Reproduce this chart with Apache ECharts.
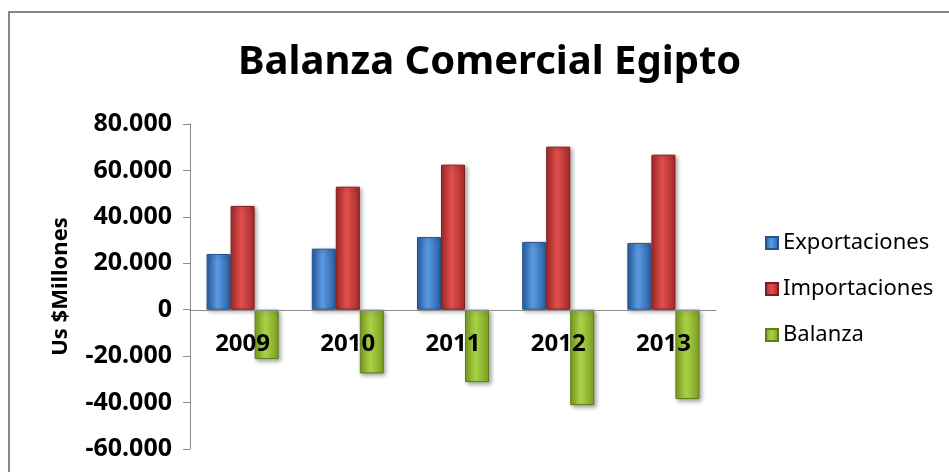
<!DOCTYPE html>
<html>
<head>
<meta charset="utf-8">
<script src="https://cdn.jsdelivr.net/npm/echarts@6/dist/echarts.min.js"></script>
<style>
  html, body { margin: 0; padding: 0; background: #fff; }
  #chart { width: 949px; height: 472px; }
</style>
</head>
<body>
<div id="chart"></div>
<script>
// datos (US$ millones)
const years = ['2009', '2010', '2011', '2012', '2013'];
const exportaciones = [24000, 26300, 31300, 29200, 28750];
const importaciones = [44700, 53000, 62500, 70250, 66800];
const balanza = [-21250, -27450, -31200, -41100, -38500];
const yTicks = { min: -60000, max: 80000, interval: 20000 };

const FONT = '"Noto Sans", sans-serif';

function shade(dark, light) {
    return {
        type: 'linear', x: 0, y: 0, x2: 1, y2: 0,
        colorStops: [
            { offset: 0, color: dark },
            { offset: 0.45, color: light },
            { offset: 1, color: dark }
        ]
    };
}

function fmt(v) {
    return String(v).replace(/\B(?=(\d{3})+(?!\d))/g, '.');
}

const barStyle = (dark, light, border) => ({
    color: shade(dark, light),
    borderColor: border,
    borderWidth: 1,
    shadowColor: 'rgba(0,0,0,0.35)',
    shadowBlur: 4,
    shadowOffsetX: 2,
    shadowOffsetY: 2
});

const options = {
    backgroundColor: '#fff',
    animation: false,
    title: {
        text: 'Balanza Comercial Egipto',
        left: 233,
        top: 38,
        textStyle: { fontFamily: FONT, fontSize: 40, fontWeight: 'bold', color: '#000' }
    },
    legend: {
        orient: 'vertical',
        left: 760,
        top: 227,
        itemWidth: 12,
        itemHeight: 12,
        itemGap: 24,
        icon: 'rect',
        textStyle: { fontFamily: FONT, fontSize: 22, color: '#000', lineHeight: 22 },
        data: ['Exportaciones', 'Importaciones', 'Balanza']
    },
    grid: { left: 190, right: 233, top: 124, bottom: 23, containLabel: false, outerBoundsMode: 'none' },
    xAxis: {
        type: 'category',
        data: years,
        z: 5,
        position: 'bottom',
        // el eje de categorias va sobre el cero (449 - 310 px)
        offset: -139,
        axisLine: { onZero: false, lineStyle: { color: '#8c8c8c', width: 1 } },
        axisTick: { show: false },
        axisLabel: { margin: 22, fontFamily: FONT, fontSize: 24, fontWeight: 'bold', color: '#000' }
    },
    yAxis: {
        type: 'value',
        min: yTicks.min,
        max: yTicks.max,
        interval: yTicks.interval,
        name: 'Us $Millones',
        nameLocation: 'middle',
        nameGap: 118,
        nameRotate: 90,
        nameTextStyle: { fontFamily: FONT, fontSize: 22, fontWeight: 'bold', color: '#000' },
        axisLine: { show: true, lineStyle: { color: '#8c8c8c' } },
        axisTick: { show: true, length: 7, lineStyle: { color: '#8c8c8c' } },
        splitLine: { show: false },
        axisLabel: {
            margin: 18,
            fontFamily: FONT, fontSize: 25, fontWeight: 'bold', color: '#000',
            formatter: fmt
        }
    },
    graphic: [{
        type: 'rect',
        silent: true,
        shape: { x: 9, y: 12, width: 1000, height: 600 },
        style: { fill: 'none', stroke: '#868686', lineWidth: 2 }
    }],
    series: [
        {
            name: 'Exportaciones', type: 'bar', data: exportaciones,
            barWidth: 24, barGap: '0%',
            itemStyle: barStyle('#2a5d9f', '#5a9be3', '#24538e')
        },
        {
            name: 'Importaciones', type: 'bar', data: importaciones,
            barWidth: 24, barGap: '0%',
            itemStyle: barStyle('#a8282a', '#e0504e', '#7d1d1c')
        },
        {
            name: 'Balanza', type: 'bar', data: balanza,
            barWidth: 24, barGap: '0%',
            itemStyle: barStyle('#7b9f22', '#a9d246', '#5f7d1a')
        }
    ]
};

const chart = echarts.init(document.getElementById('chart'), null, { renderer: 'canvas' });
chart.setOption(options);
</script>
</body>
</html>
